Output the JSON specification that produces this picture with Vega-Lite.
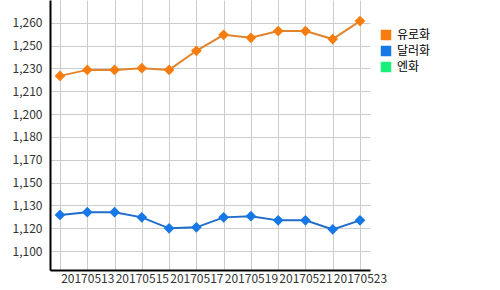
{
  "$schema": "https://vega.github.io/schema/vega-lite/v6.json",
  "width": 320,
  "height": 270,
  "autosize": {"type": "none"},
  "padding": {"left": 50, "top": 0, "right": 130, "bottom": 20},
  "background": "white",
  "config": {
    "font": "Noto Sans CJK KR",
    "view": {"stroke": null},
    "axis": {"labelFont": "Noto Sans CJK KR", "labelFontSize": 12, "labelColor": "#333333", "gridColor": "#cccccc", "gridOpacity": 1, "gridWidth": 1, "domainColor": "#000000", "domainWidth": 2, "ticks": false, "title": null}
  },
  "data": {
    "values": [
      {"date": "20170512", "series": "유로화", "value": 1223.8},
      {"date": "20170513", "series": "유로화", "value": 1228.0},
      {"date": "20170514", "series": "유로화", "value": 1228.0},
      {"date": "20170515", "series": "유로화", "value": 1229.2},
      {"date": "20170516", "series": "유로화", "value": 1228.0},
      {"date": "20170517", "series": "유로화", "value": 1241.4},
      {"date": "20170518", "series": "유로화", "value": 1252.6},
      {"date": "20170519", "series": "유로화", "value": 1250.5},
      {"date": "20170520", "series": "유로화", "value": 1255.2},
      {"date": "20170521", "series": "유로화", "value": 1255.2},
      {"date": "20170522", "series": "유로화", "value": 1249.6},
      {"date": "20170523", "series": "유로화", "value": 1262.2},
      {"date": "20170512", "series": "달러화", "value": 1126.3},
      {"date": "20170513", "series": "달러화", "value": 1128.2},
      {"date": "20170514", "series": "달러화", "value": 1128.2},
      {"date": "20170515", "series": "달러화", "value": 1124.6},
      {"date": "20170516", "series": "달러화", "value": 1116.9},
      {"date": "20170517", "series": "달러화", "value": 1117.6},
      {"date": "20170518", "series": "달러화", "value": 1124.6},
      {"date": "20170519", "series": "달러화", "value": 1125.4},
      {"date": "20170520", "series": "달러화", "value": 1122.5},
      {"date": "20170521", "series": "달러화", "value": 1122.5},
      {"date": "20170522", "series": "달러화", "value": 1116.2},
      {"date": "20170523", "series": "달러화", "value": 1122.5}
    ]
  },
  "encoding": {
    "x": {
      "field": "date", "type": "ordinal",
      "scale": {"type": "point", "padding": 0.367},
      "axis": {"labelAngle": 0, "labelPadding": 3, "labelOverlap": false, "grid": true,
               "labelExpr": "toNumber(datum.value) % 2 == 1 ? datum.label : ''"}
    },
    "y": {
      "field": "value", "type": "quantitative",
      "scale": {"domain": [1087.7, 1277], "nice": false, "zero": false},
      "axis": {"values": [1101, 1117, 1133, 1149, 1165, 1181, 1197, 1213, 1229, 1245, 1261],
               "labelExpr": "format(round(datum.value/10)*10, ',')", "labelPadding": 8}
    }
  },
  "layer": [
    {
      "mark": {"type": "line", "strokeWidth": 2},
      "encoding": {
        "color": {"field": "series", "type": "nominal",
                  "scale": {"domain": ["유로화", "달러화", "엔화"], "range": ["#e0852e", "#1f6cc9", "#1ee87a"]},
                  "legend": null}
      }
    },
    {
      "mark": {"type": "point", "shape": "diamond", "filled": true, "size": 115, "opacity": 1},
      "encoding": {
        "color": {"field": "series", "type": "nominal",
                  "scale": {"domain": ["유로화", "달러화", "엔화"], "range": ["#f67c0d", "#1677e6", "#19f07a"]},
                  "legend": {"title": null, "orient": "none", "legendX": 330, "legendY": 29,
                             "symbolType": "square", "symbolSize": 110, "symbolStrokeWidth": 0,
                             "labelFontSize": 12, "labelColor": "#000000", "labelFont": "Noto Sans CJK KR", "rowPadding": 4, "labelOffset": 5}}
      }
    }
  ],
  "resolve": {"scale": {"color": "independent"}}
}
